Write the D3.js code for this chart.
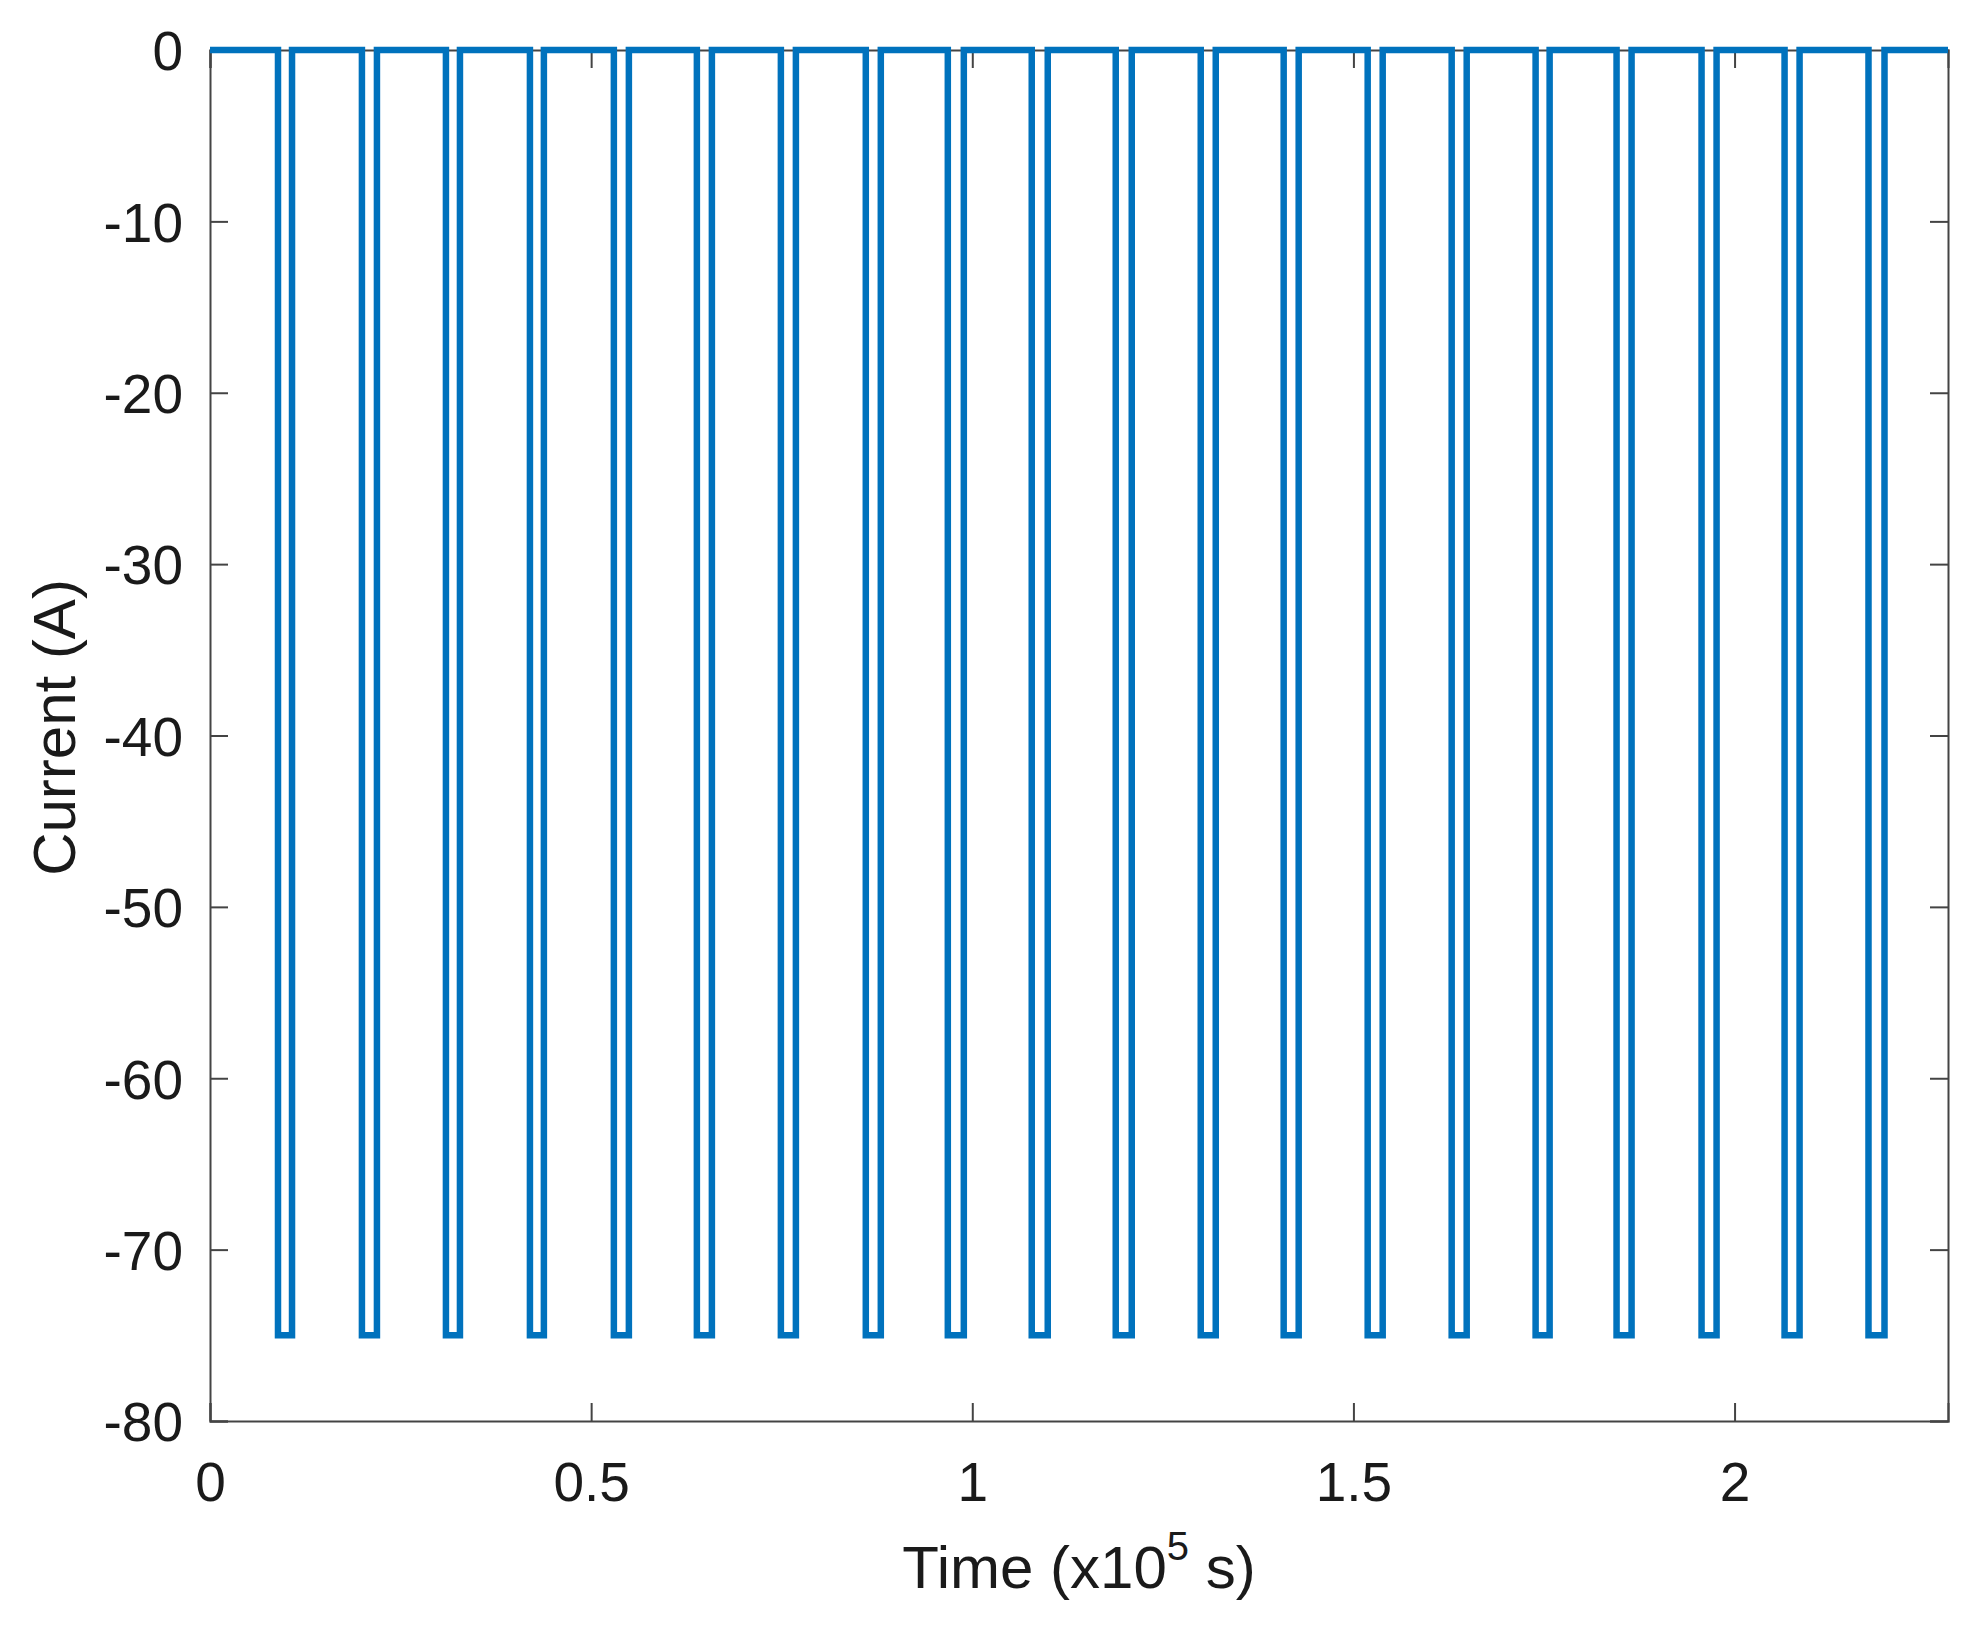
<!DOCTYPE html>
<html>
<head>
<meta charset="utf-8">
<script src="https://cdn.jsdelivr.net/npm/d3@7"></script>
<style>
  body { margin: 0; background: #fff; }
  text { font-family: "Liberation Sans", Arial, Helvetica, sans-serif; fill: #1a1a1a; }
</style>
</head>
<body>
<div id="chart"></div>
<script>
// pulse edges, in units of 10^5 s
var pulseStart = [0.0892, 0.1993, 0.3095, 0.4197, 0.5298, 0.6387, 0.7489, 0.8603, 0.9679, 1.0780,
                  1.1882, 1.2997, 1.4085, 1.5187, 1.6289, 1.7390, 1.8452, 1.9567, 2.0656, 2.1757];
var pulseEnd   = [0.1076, 0.2190, 0.3279, 0.4380, 0.5495, 0.6584, 0.7686, 0.8800, 0.9889, 1.0990,
                  1.2092, 1.3194, 1.4282, 1.5384, 1.6486, 1.7574, 1.8649, 1.9764, 2.0853, 2.1967];
var restCurrent = 0;
var pulseCurrent = -75;
var timeEnd = 2.28;

var xTicks = [0, 0.5, 1, 1.5, 2];
var yTicks = [0, -10, -20, -30, -40, -50, -60, -70, -80];

var W = 1988, H = 1638;
var margin = { left: 210, right: W - 1948, top: 50, bottom: H - 1421 };
var width = W - margin.left - margin.right;
var height = H - margin.top - margin.bottom;

var svg = d3.select("#chart").append("svg")
    .attr("width", W)
    .attr("height", H);

var g = svg.append("g")
    .attr("transform", "translate(" + margin.left + "," + margin.top + ")");

var x = d3.scaleLinear().domain([0, timeEnd]).range([0, width]);
var y = d3.scaleLinear().domain([-80, 0]).range([height, 0]);

// build the step trace from the pulse edges
var trace = [[0, restCurrent]];
pulseStart.forEach(function (s, i) {
  trace.push([s, restCurrent]);
  trace.push([s, pulseCurrent]);
  trace.push([pulseEnd[i], pulseCurrent]);
  trace.push([pulseEnd[i], restCurrent]);
});
trace.push([timeEnd, restCurrent]);

var tickLen = 18;
// plain hyphen for negatives, like matlab
var fmt = function (d) { return String(d); };

// axes (box with inward ticks on all sides)
var axB = g.append("g").attr("transform", "translate(0," + height + ")")
    .call(d3.axisBottom(x).tickValues(xTicks).tickSize(-tickLen).tickPadding(0).tickFormat(fmt));
var axT = g.append("g")
    .call(d3.axisTop(x).tickValues(xTicks).tickSize(-tickLen).tickFormat(""));
var axL = g.append("g")
    .call(d3.axisLeft(y).tickValues(yTicks).tickSize(-tickLen).tickPadding(0).tickFormat(fmt));
var axR = g.append("g").attr("transform", "translate(" + width + ",0)")
    .call(d3.axisRight(y).tickValues(yTicks).tickSize(-tickLen).tickFormat(""));

[axB, axT, axL, axR].forEach(function (a) {
  a.select(".domain").attr("stroke", "#444").attr("stroke-width", 2);
  a.selectAll(".tick line").attr("stroke", "#444").attr("stroke-width", 2);
  a.selectAll("text").attr("font-size", 55).attr("fill", "#1a1a1a")
    .attr("font-family", '"Liberation Sans", Arial, sans-serif');
});
axB.selectAll(".tick text").attr("y", 80).attr("dy", null);
axL.selectAll(".tick text").attr("x", -27).attr("dy", "0.36em");

// data line
var line = d3.line()
    .x(function (d) { return x(d[0]); })
    .y(function (d) { return y(d[1]); });

g.append("path")
    .datum(trace)
    .attr("fill", "none")
    .attr("stroke", "#0072BD")
    .attr("stroke-width", 6.5)
    .attr("stroke-linejoin", "miter")
    .attr("d", line);

// axis titles
var xt = svg.append("text")
    .attr("x", margin.left + width / 2)
    .attr("y", 1588)
    .attr("text-anchor", "middle")
    .attr("font-size", 60);
xt.append("tspan").text("Time (x10");
xt.append("tspan").attr("font-size", 40).attr("dy", -28).text("5");
xt.append("tspan").attr("dy", 28).text(" s)");

svg.append("text")
    .attr("transform", "translate(75," + (margin.top + height / 2 - 8) + ") rotate(-90)")
    .attr("text-anchor", "middle")
    .attr("font-size", 60)
    .text("Current (A)");
</script>
</body>
</html>
